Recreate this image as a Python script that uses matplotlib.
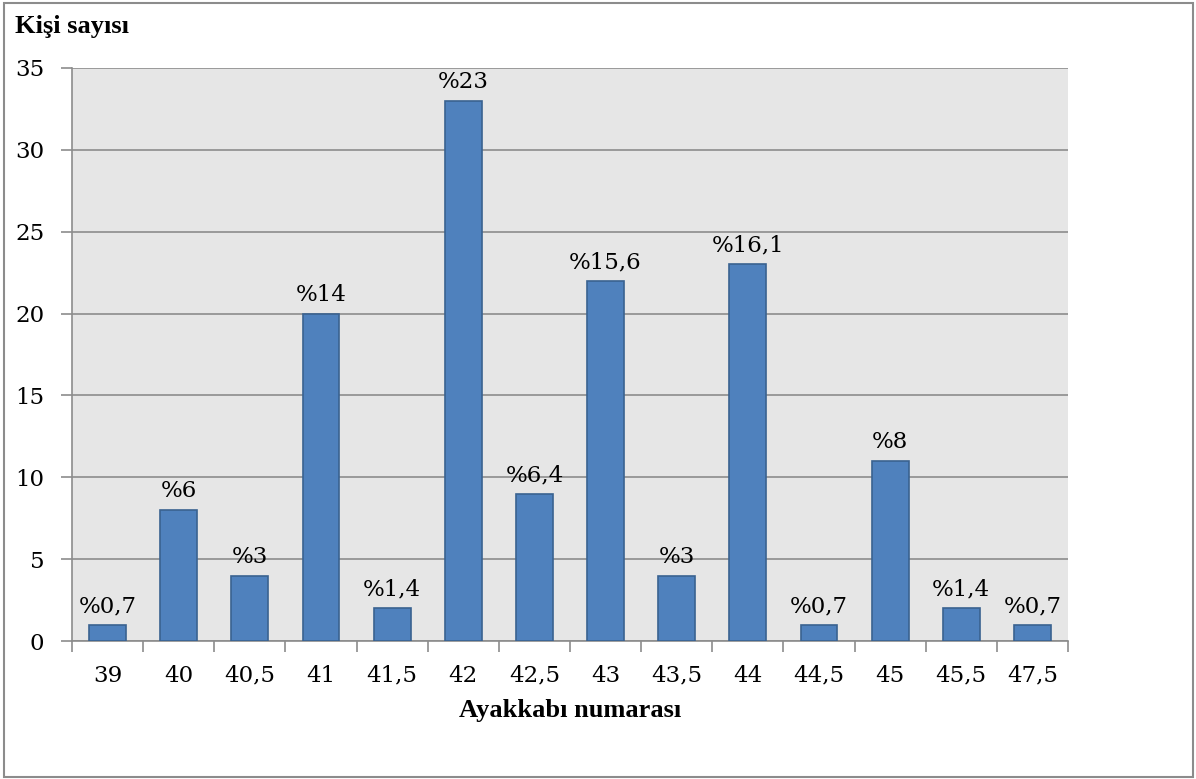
import matplotlib
matplotlib.use("Agg")
import matplotlib.pyplot as plt
from matplotlib.patches import Rectangle

categories = ["39", "40", "40,5", "41", "41,5", "42", "42,5", "43", "43,5", "44", "44,5", "45", "45,5", "47,5"]
counts = [1, 8, 4, 20, 2, 33, 9, 22, 4, 23, 1, 11, 2, 1]
pct_labels = ["%0,7", "%6", "%3", "%14", "%1,4", "%23", "%6,4", "%15,6", "%3", "%16,1", "%0,7", "%8", "%1,4", "%0,7"]
yticks = [0, 5, 10, 15, 20, 25, 30, 35]

plt.rcParams['font.family'] = ['DejaVu Serif']
num_font = 16.5
bold_font = ['Liberation Serif', 'DejaVu Serif']

fig = plt.figure(figsize=(11.96, 7.79), dpi=100)
ax = fig.add_axes([72/1196, 1-641/779, (1068-72)/1196, (641-68)/779])
ax.set_facecolor('#E6E6E6')

x = list(range(len(categories)))
ax.bar(x, counts, width=0.52, color='#4F81BD', edgecolor='#3A6290', linewidth=1.2, zorder=3)
for xi, c, lab in zip(x, counts, pct_labels):
    ax.annotate(lab, (xi, c), xytext=(0, 5.5), textcoords='offset points', ha='center', va='bottom', fontsize=num_font)

ax.set_xlim(-0.5, len(categories)-0.5)
ax.set_ylim(0, 35)
ax.set_yticks(yticks)
ax.set_yticklabels([str(v) for v in yticks], fontsize=num_font)
ax.yaxis.grid(True, color='#8C8C8C', linewidth=1.2, zorder=1)
ax.set_axisbelow(True)

ax.set_xticks([i + 0.5 for i in range(-1, len(categories))], minor=False)
ax.set_xticklabels([])
ax.set_xticks(x, minor=True)
ax.set_xticklabels(categories, minor=True, fontsize=num_font)
ax.tick_params(axis='x', which='major', length=8, color='#8C8C8C', width=1.2)
ax.tick_params(axis='x', which='minor', length=0, pad=17)
ax.tick_params(axis='y', length=8, color='#8C8C8C', width=1.2, pad=12)

for s in ['top', 'right']:
    ax.spines[s].set_visible(False)
for s in ['left', 'bottom']:
    ax.spines[s].set_color('#8C8C8C')
    ax.spines[s].set_linewidth(1.2)

ax.set_xlabel("Ayakkabı numarası", fontsize=19, fontweight='bold', family=bold_font, labelpad=9)
fig.text(15/1196, 1-26/779, "Kişi sayısı", fontsize=19, fontweight='bold', family=bold_font, ha='left', va='center')

fig.patches.append(Rectangle((4/1196, 2/779), 1189/1196, 774/779, transform=fig.transFigure,
                             fill=False, edgecolor='#8C8C8C', linewidth=1.5))

fig.savefig('out.png', dpi=100)
